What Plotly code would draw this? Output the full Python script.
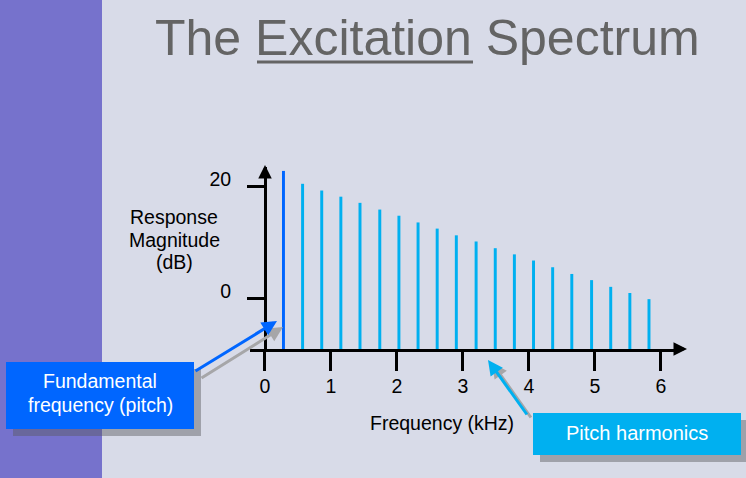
import plotly.graph_objects as go

W, H = 746, 478

# harmonic frequencies (kHz) and magnitudes (dB)
freqs = [0.28, 0.57, 0.86, 1.15, 1.44, 1.74, 2.03, 2.32, 2.61, 2.90,
         3.20, 3.49, 3.78, 4.07, 4.36, 4.65, 4.95, 5.24, 5.53, 5.82]
mags = [22.7, 20.4, 19.2, 18.1, 17.0, 15.8, 14.7, 13.5, 12.4, 11.2,
        10.1, 8.9, 7.8, 6.7, 5.5, 4.3, 3.2, 2.0, 0.9, -0.2]
xticks = [0, 1, 2, 3, 4, 5, 6]
yticks = [0, 20]

y_lo, y_hi = -9.1, 23.4
x_lo, x_hi = -0.227, 6.29

bg = "#D8DBE8"
blue = "#0066FF"
light = "#00B0F0"
shadow = "rgba(90,90,95,0.45)"
font = "Arial, Liberation Sans, sans-serif"

colors = [blue] + [light] * (len(freqs) - 1)

fig = go.Figure(go.Bar(
    x=freqs, y=[m - y_lo for m in mags], base=y_lo,
    width=0.045, marker_color=colors, marker_line_width=0,
))


def px(x):
    return x / W


def py(y):
    return 1 - y / H


def label(text, x, y, size=19.5, color="black"):
    return dict(text=text, x=px(x), y=py(y), xref="paper", yref="paper",
                xanchor="center", yanchor="middle", showarrow=False, align="center",
                font=dict(size=size, color=color, family=font))


def arrow(x, y, ax, ay, color, size=1.0):
    return dict(text="", x=px(x), y=py(y), xref="paper", yref="paper", ax=ax, ay=ay,
                showarrow=True, arrowhead=2, arrowsize=size, arrowwidth=3, arrowcolor=color)


shapes = [
    # purple strip at left
    dict(type="rect", xref="paper", yref="paper", x0=0, x1=px(102), y0=0, y1=1,
         fillcolor="#7672CC", line_width=0, layer="below"),
    # underline for "Excitation"
    dict(type="line", xref="paper", yref="paper", x0=px(257), x1=px(473),
         y0=py(62), y1=py(62), line=dict(color="#646464", width=3)),
    # callout boxes with shadows
    dict(type="rect", xref="paper", yref="paper", x0=px(13), x1=px(201),
         y0=py(436), y1=py(369), fillcolor=shadow, line_width=0),
    dict(type="rect", xref="paper", yref="paper", x0=px(6), x1=px(194),
         y0=py(429), y1=py(362), fillcolor=blue, line_width=0),
    dict(type="rect", xref="paper", yref="paper", x0=px(540), x1=px(748),
         y0=py(462), y1=py(420), fillcolor=shadow, line_width=0),
    dict(type="rect", xref="paper", yref="paper", x0=px(533), x1=px(741),
         y0=py(455), y1=py(413), fillcolor=light, line_width=0),
]

annotations = [
    label("The Excitation Spectrum", 427, 38, size=50, color="#646464"),
    label("Response", 174, 217),
    label("Magnitude", 174, 240),
    label("(dB)", 174, 262),
    label("Frequency (kHz)", 442, 423),
    # axis arrowheads
    arrow(687, 349, -12, 0, "black", 0.9),
    arrow(265, 165, 0, 12, "black", 0.9),
    # callout arrows (shadow first)
    arrow(283, 327, -83, 52, "#A6A6A8"),
    arrow(277, 321, -83, 51, blue),
    arrow(492, 363, 40, 56, "#A6A6A8"),
    arrow(488, 360, 40, 56, light),
    # callout texts
    label("Fundamental", 100, 381, color="white"),
    label("frequency (pitch)", 100, 405, color="white"),
    label("Pitch harmonics", 637, 433, size=20, color="white"),
]

fig.update_layout(
    width=W, height=H,
    margin=dict(l=0, r=0, t=0, b=0),
    paper_bgcolor=bg, plot_bgcolor="rgba(0,0,0,0)",
    showlegend=False,
    shapes=shapes, annotations=annotations,
    font=dict(family=font, color="black", size=19.5),
    xaxis=dict(domain=[px(250), px(680)], range=[x_lo, x_hi], anchor="y",
               showline=True, linecolor="black", linewidth=3, showgrid=False, zeroline=False,
               tickvals=xticks, ticks="outside", ticklen=19, tickwidth=3, tickcolor="black",
               tickfont=dict(size=19.5), ticklabelstandoff=-1),
    yaxis=dict(domain=[py(349), py(167)], range=[y_lo, y_hi], anchor="free", position=px(265),
               showline=True, linecolor="black", linewidth=3, showgrid=False, zeroline=False,
               tickvals=yticks, ticks="outside", ticklen=17, tickwidth=3, tickcolor="black",
               tickfont=dict(size=19.5), ticklabelshift=-7, ticklabelstandoff=12),
)

fig.write_html("out.html", config={"displayModeBar": False},
               post_script="document.body.style.margin='0';document.body.style.overflow='hidden';")
